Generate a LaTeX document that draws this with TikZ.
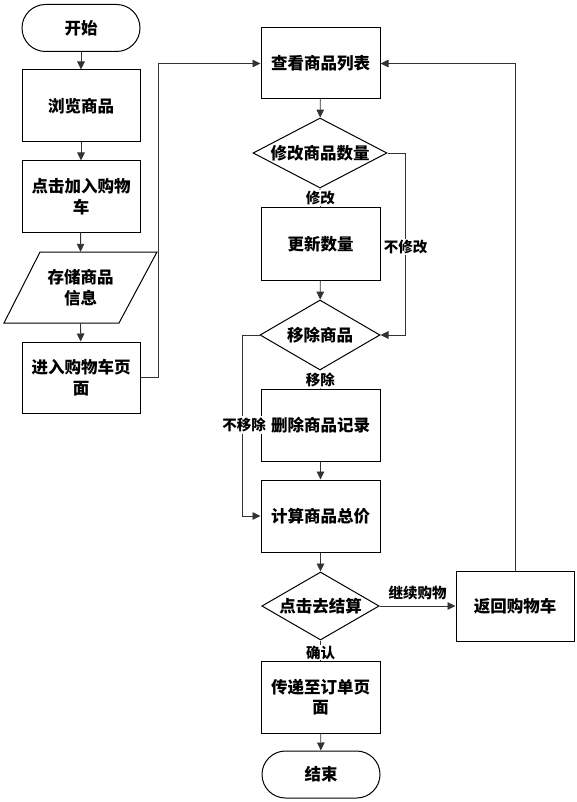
\documentclass[tikz,border=0pt]{standalone}
\usepackage{fontspec}
\newfontfamily\cjk{Noto Sans CJK SC}
\usetikzlibrary{shapes.geometric,arrows.meta}
\tikzset{
  base/.style={draw=black, line width=1pt, align=center, inner sep=0pt,
    font=\cjk\bfseries\fontsize{16.5}{20.5}\selectfont},
  proc/.style={base, rectangle, minimum width=119, minimum height=72},
  term/.style={base, rectangle, rounded corners=23.5pt, minimum width=118, minimum height=47},
  dec/.style={base, diamond, aspect=2.2},
  io/.style={align=center, inner sep=0pt, minimum width=118, minimum height=71,
    font=\cjk\bfseries\fontsize{16.5}{20.5}\selectfont},
  conn/.style={draw=black!80, line width=0.9pt},
  arr/.style={conn, -{Triangle[length=8pt,width=7.5pt]}},
  lbl/.style={fill=white, inner sep=1pt, font=\cjk\bfseries\fontsize{14.5}{16}\selectfont}
}
\begin{document}
\begin{tikzpicture}[x=1pt,y=-1pt]
\useasboundingbox[fill=white] (0,0) rectangle (577,802);
% left column
\node[term] (start) at (81,28) {开始};
\node[proc, minimum width=118] (browse) at (81,106) {浏览商品};
\node[proc, minimum width=118, minimum height=71] (click) at (81,196.5) {点击加入购物\\车};
\draw[line width=1pt] (40,252) -- (157,252) -- (119,323) -- (4,323) -- cycle;
\node[io] (store) at (80.5,287.5) {存储商品\\信息};
\node[proc, minimum width=118, minimum height=71] (enter) at (81,377.5) {进入购物车页\\面};
% right column
\node[proc, minimum height=71] (list) at (320.5,63.5) {查看商品列表};
\node[dec, minimum width=134, minimum height=70] (d1) at (320,153) {修改商品数量};
\node[proc] (update) at (320.5,244) {更新数量};
\node[dec, minimum width=120, minimum height=70] (d2) at (320,335) {移除商品};
\node[proc] (delete) at (320.5,425) {删除商品记录};
\node[proc] (calc) at (320.5,516) {计算商品总价};
\node[dec, minimum width=117, minimum height=68] (d3) at (320.5,606) {点击去结算};
\node[proc, minimum width=118, minimum height=70] (back) at (515,606) {返回购物车};
\node[proc] (send) at (320.5,697) {传递至订单页\\面};
\node[term] (end) at (321,774.5) {结束};
% connectors
\draw[arr] (start) -- (browse);
\draw[arr] (browse) -- (click);
\draw[arr] (click) -- (store.north);
\draw[arr] (store.south) -- (enter);
\draw[arr] (enter.east) -- ++(18,0) |- (list.west);
\draw[arr] (list) -- (d1);
\draw[conn] (d1.south) -- (update.north) node[lbl, midway] {修改};
\draw[arr] (update) -- (d2);
\draw[arr] (d1.east) -- ++(18,0) coordinate (c1) |- (d2.east);
\draw[conn] (d2.south) -- (delete.north) node[lbl, midway] {移除};
\draw[arr] (delete) -- (calc);
\draw[arr] (d2.west) -- ++(-17,0) |- (calc.west);
\draw[arr] (calc) -- (d3);
\draw[arr] (d3.east) -- (back.west) node[midway, above=2pt, font=\cjk\bfseries\fontsize{14.5}{16}\selectfont] {继续购物};
\draw[conn] (d3.south) -- (send.north) node[lbl, pos=0.6] {确认};
\draw[arr] (send) -- (end);
\draw[arr] (back.north) |- (list.east);
\node[lbl] (nmod) at (405.5,247) {不修改};
\node[lbl, inner sep=1.5pt] (nrm) at (244,425) {不移除};
\end{tikzpicture}
\end{document}
